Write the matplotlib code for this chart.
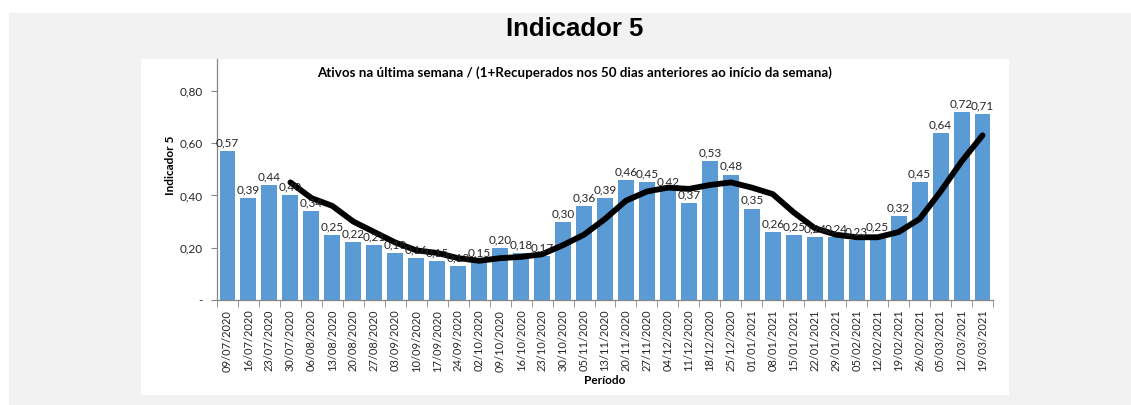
import numpy as np
import matplotlib
matplotlib.use("Agg")
import matplotlib.pyplot as plt
from matplotlib.patches import Rectangle

# ── Data --------------------------------------------------------------------
periods = [
    "09/07/2020", "16/07/2020", "23/07/2020", "30/07/2020", "06/08/2020",
    "13/08/2020", "20/08/2020", "27/08/2020", "03/09/2020", "10/09/2020",
    "17/09/2020", "24/09/2020", "02/10/2020", "09/10/2020", "16/10/2020",
    "23/10/2020", "30/10/2020", "05/11/2020", "13/11/2020", "20/11/2020",
    "27/11/2020", "04/12/2020", "11/12/2020", "18/12/2020", "25/12/2020",
    "01/01/2021", "08/01/2021", "15/01/2021", "22/01/2021", "29/01/2021",
    "05/02/2021", "12/02/2021", "19/02/2021", "26/02/2021", "05/03/2021",
    "12/03/2021", "19/03/2021",
]

indicador = [
    0.57, 0.39, 0.44, 0.40, 0.34, 0.25, 0.22, 0.21, 0.18, 0.16,
    0.15, 0.13, 0.15, 0.20, 0.18, 0.17, 0.30, 0.36, 0.39, 0.46,
    0.45, 0.42, 0.37, 0.53, 0.48, 0.35, 0.26, 0.25, 0.24, 0.24,
    0.23, 0.25, 0.32, 0.45, 0.64, 0.72, 0.71,
]

# black trend line (starts on the 4th week)
tendencia = [
    np.nan, np.nan, np.nan, 0.45, 0.39, 0.36, 0.30, 0.26, 0.22, 0.19,
    0.18, 0.16, 0.15, 0.16, 0.165, 0.175, 0.21, 0.25, 0.31, 0.38,
    0.415, 0.43, 0.425, 0.44, 0.45, 0.43, 0.405, 0.335, 0.275, 0.25,
    0.24, 0.24, 0.26, 0.31, 0.415, 0.53, 0.63,
]

y_ticks = [0.0, 0.2, 0.4, 0.6, 0.8]
y_ticklabels = ["-", "0,20", "0,40", "0,60", "0,80"]

titulo = "Indicador 5"
subtitulo = "Ativos na última semana / (1+Recuperados nos 50 dias anteriores ao início da semana)"

# ── Figure ------------------------------------------------------------------
W, H = 1131, 405
fig = plt.figure(figsize=(W / 100, H / 100), dpi=100)
fig.patch.set_facecolor("white")

# grey page background and white chart panel
fig.add_artist(Rectangle((9 / W, 0), 1 - 9 / W, (H - 13) / H, transform=fig.transFigure,
                         facecolor="#f2f2f2", edgecolor="none", zorder=-2))
fig.add_artist(Rectangle((141 / W, (H - 395) / H), (1009 - 141) / W, (395 - 59) / H,
                         transform=fig.transFigure, facecolor="white", edgecolor="none", zorder=-1))

ax = fig.add_axes([217 / W, 105 / H, 776 / W, 241 / H])
ax.set_facecolor("none")

x = np.arange(len(periods))
ax.bar(x, indicador, width=0.76, color="#5b9bd5", zorder=2)
ax.plot(x, tendencia, color="black", lw=4.2, solid_capstyle="round",
        solid_joinstyle="round", zorder=3)

for xi, v in zip(x, indicador):
    ax.text(xi, v + 0.01, f"{v:.2f}".replace(".", ","), ha="center", va="bottom",
            fontsize=8.5, family="Lato", color="#262626", zorder=4)

ax.set_xlim(-0.5, len(periods) - 0.5)
ax.set_ylim(0, 0.922)

for s in ("top", "right"):
    ax.spines[s].set_visible(False)
for s in ("left", "bottom"):
    ax.spines[s].set_color("#868686")
    ax.spines[s].set_linewidth(0.9)

ax.set_yticks(y_ticks)
ax.set_yticklabels(y_ticklabels, family="Lato", fontsize=8.5, color="#262626")
ax.tick_params(axis="y", direction="out", length=4, color="#868686", pad=6)

ax.set_xticks(x)
ax.set_xticklabels(periods, rotation=90, family="Lato", fontsize=8, color="#262626")
ax.tick_params(axis="x", which="major", length=0, pad=7)
ax.set_xticks(np.arange(-0.5, len(periods)), minor=True)
ax.tick_params(axis="x", which="minor", direction="out", length=5, color="#868686")

# ── Texts -------------------------------------------------------------------
fig.text(575 / W, 1 - 29 / H, titulo, ha="center", va="center",
         family="Liberation Sans", fontweight="bold", fontsize=18.5)
fig.text(575 / W, 1 - 73 / H, subtitulo, ha="center", va="center",
         family="Lato", fontweight="bold", fontsize=9.6)
fig.text(170 / W, 1 - 165 / H, "Indicador 5", rotation=90, ha="center", va="center",
         family="Lato", fontweight="bold", fontsize=8.5)
fig.text(605 / W, 1 - 381 / H, "Período", ha="center", va="center",
         family="Lato", fontweight="bold", fontsize=8.5)

fig.savefig("out.png", dpi=100)
